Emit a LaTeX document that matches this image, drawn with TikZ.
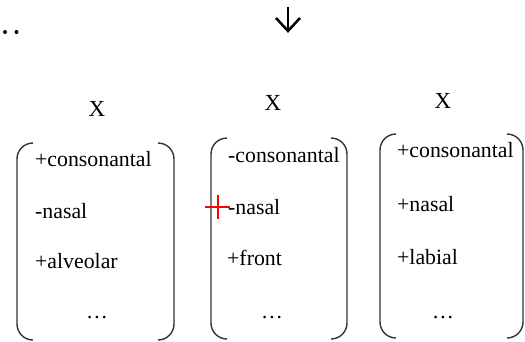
\documentclass[tikz,border=0pt]{standalone}
\usepackage{fontspec}
\setmainfont{Liberation Serif}
\begin{document}
\begin{tikzpicture}[x=1pt,y=-1pt,
  feat/.style={anchor=base west,inner sep=0pt,font=\fontsize{21.8}{24}\selectfont},
  head/.style={anchor=base,inner sep=0pt,font=\fontsize{23}{26}\selectfont},
  dotsym/.style={anchor=base,inner sep=0pt,font=\fontsize{21.8}{24}\selectfont},
  bracket/.style={draw=black!80,line width=1.4pt,rounded corners=16pt},
  marker/.style={draw=red,line width=1.5pt}]
\useasboundingbox (0,0) rectangle (525,341);

% leading dots and the downward arrow
\fill (5,32) circle (2) (16.5,32) circle (2);
\draw[line width=2.5pt] (288,7) -- (288,31);
\draw[line width=2.5pt,line join=miter] (276,18) -- (288,31) -- (300,18);

% first segment
\node[head] (x1) at (97,116) {X};
\draw[bracket] (33,143) -- (17,143) -- (17,340) -- (33,340);
\draw[bracket] (158,143) -- (174,143) -- (174,340) -- (158,340);
\node[feat] (a1) at (35,166) {+consonantal};
\node[feat] (a2) at (35,218) {-nasal};
\node[feat] (a3) at (35,268) {+alveolar};
\node[dotsym] (a4) at (97,318) {\dots};

% second segment
\node[head] (x2) at (273,110) {X};
\draw[bracket] (227,138) -- (211,138) -- (211,339) -- (227,339);
\draw[bracket] (331,138) -- (347,138) -- (347,339) -- (331,339);
\node[feat] (b1) at (228,162) {-consonantal};
\node[feat] (b2) at (228,214) {-nasal};
\node[feat] (b3) at (227,265) {+front};
\node[dotsym] (b4) at (272,318) {\dots};

% third segment
\node[head] (x3) at (443,108) {X};
\draw[bracket] (396,134) -- (380,134) -- (380,338) -- (396,338);
\draw[bracket] (507,134) -- (523,134) -- (523,338) -- (507,338);
\node[feat] (c1) at (397,157) {+consonantal};
\node[feat] (c2) at (397,211) {+nasal};
\node[feat] (c3) at (397,264) {+labial};
\node[dotsym] (c4) at (443,318) {\dots};

% red cross marker
\coordinate (m) at (218,207);
\draw[marker] ([xshift=-13pt]m) -- ([xshift=12pt]m);
\draw[marker] ([yshift=-12pt]m) -- ([yshift=12pt]m);
\end{tikzpicture}
\end{document}
